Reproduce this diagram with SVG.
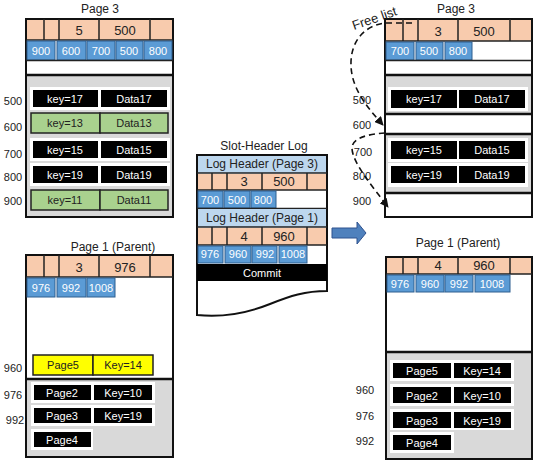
<svg xmlns="http://www.w3.org/2000/svg" width="534" height="462" viewBox="0 0 534 462">
<defs>
  <style>
    text { font-family: "Liberation Sans", Arial, sans-serif; }
    .title { font-size: 12px; fill: #222; text-anchor: middle; }
    .lbl { font-size: 11px; fill: #222; text-anchor: middle; }
    .frame { fill: #ffffff; stroke: #111; stroke-width: 2; }
    .hdr { fill: #f8cbad; }
    .sep { stroke: #222; stroke-width: 1.5; }
    .thick { stroke: #111; stroke-width: 2.5; }
    .slot { fill: #5b9bd5; stroke: #2e5f8f; stroke-width: 1; }
    .slotT { font-size: 11px; fill: #fff; text-anchor: middle; }
    .num { font-size: 13px; fill: #222; text-anchor: middle; }
    .gray { fill: #d9d9d9; }
    .strip { fill: #ffffff; }
    .rec { fill: #000; }
    .recT { font-size: 11px; fill: #fff; text-anchor: middle; }
    .green { fill: #a9d18e; stroke: #222; stroke-width: 1.5; }
    .yellow { fill: #ffff00; stroke: #222; stroke-width: 1.5; }
    .darkT { font-size: 11px; fill: #222; text-anchor: middle; }
    .loghdr { fill: #bdd7ee; }
    .dash { fill: none; stroke: #111; stroke-width: 1.6; stroke-dasharray: 6 4; }
  </style>
  <marker id="ah" viewBox="0 0 10 10" refX="9" refY="5" markerWidth="9" markerHeight="9" markerUnits="userSpaceOnUse" orient="auto">
    <path d="M0,0 L10,5 L0,10 Z" fill="#111"/>
  </marker>
</defs>
<rect width="534" height="462" fill="#ffffff"/>

<!-- Page 3 before reorganisation -->
<g id="page3-before">
  <text class="title" x="100" y="13">Page 3</text>
  <rect class="frame" x="26" y="19" width="147" height="198"/>
  <rect class="hdr" x="27" y="20" width="145" height="20"/>
  <g class="sep">
    <line x1="44" y1="19" x2="44" y2="40"/><line x1="59" y1="19" x2="59" y2="40"/>
    <line x1="99" y1="19" x2="99" y2="40"/><line x1="150" y1="19" x2="150" y2="40"/>
    <line x1="26" y1="40" x2="173" y2="40"/>
  </g>
  <text class="num" x="79" y="35">5</text>
  <text class="num" x="125" y="35">500</text>
  <rect class="slot" x="27" y="41" width="28" height="19"/>
  <rect class="slot" x="57" y="41" width="29" height="19"/>
  <rect class="slot" x="87" y="41" width="28" height="19"/>
  <rect class="slot" x="116" y="41" width="27" height="19"/>
  <rect class="slot" x="144" y="41" width="28" height="19"/>
  <text class="slotT" x="41" y="55">900</text>
  <text class="slotT" x="71" y="55">600</text>
  <text class="slotT" x="101" y="55">700</text>
  <text class="slotT" x="129" y="55">500</text>
  <text class="slotT" x="158" y="55">800</text>
  <line class="sep" x1="26" y1="60.5" x2="173" y2="60.5"/>
  <rect class="gray" x="27" y="76" width="145" height="140"/>
  <line class="thick" x1="26" y1="75" x2="173" y2="75"/>
  <rect class="strip" x="30" y="87" width="140" height="23"/>
  <rect class="strip" x="30" y="138" width="140" height="23"/>
  <rect class="strip" x="30" y="163" width="140" height="23"/>
  <rect class="rec" x="33" y="90" width="65" height="17"/>
  <rect class="rec" x="101" y="90" width="66" height="17"/>
  <rect class="green" x="31" y="113" width="69" height="20"/>
  <rect class="green" x="100" y="113" width="68" height="20"/>
  <rect class="rec" x="33" y="141" width="65" height="17"/>
  <rect class="rec" x="101" y="141" width="66" height="17"/>
  <rect class="rec" x="33" y="166" width="65" height="17"/>
  <rect class="rec" x="101" y="166" width="66" height="17"/>
  <rect class="green" x="31" y="190" width="69" height="20"/>
  <rect class="green" x="100" y="190" width="68" height="20"/>
  <text class="recT" x="65" y="103">key=17</text>
  <text class="recT" x="134" y="103">Data17</text>
  <text class="darkT" x="65" y="127">key=13</text>
  <text class="darkT" x="134" y="127">Data13</text>
  <text class="recT" x="65" y="154">key=15</text>
  <text class="recT" x="134" y="154">Data15</text>
  <text class="recT" x="65" y="179">key=19</text>
  <text class="recT" x="134" y="179">Data19</text>
  <text class="darkT" x="65" y="204">key=11</text>
  <text class="darkT" x="134" y="204">Data11</text>
  <text class="lbl" x="13" y="105">500</text>
  <text class="lbl" x="13" y="131">600</text>
  <text class="lbl" x="13" y="158">700</text>
  <text class="lbl" x="13" y="181">800</text>
  <text class="lbl" x="13" y="205">900</text>
</g>

<!-- Page 1 (parent) before -->
<g id="page1-before">
  <text class="title" x="113" y="251">Page 1 (Parent)</text>
  <rect class="frame" x="26" y="255" width="147" height="202"/>
  <rect class="hdr" x="27" y="256" width="145" height="21"/>
  <g class="sep">
    <line x1="44" y1="255" x2="44" y2="277"/><line x1="59" y1="255" x2="59" y2="277"/>
    <line x1="99" y1="255" x2="99" y2="277"/><line x1="150" y1="255" x2="150" y2="277"/>
    <line x1="26" y1="277" x2="173" y2="277"/>
  </g>
  <text class="num" x="79" y="272">3</text>
  <text class="num" x="125" y="272">976</text>
  <rect class="slot" x="27" y="278" width="28" height="19"/>
  <rect class="slot" x="57" y="278" width="29" height="19"/>
  <rect class="slot" x="87" y="278" width="28" height="19"/>
  <text class="slotT" x="41" y="292">976</text>
  <text class="slotT" x="71" y="292">992</text>
  <text class="slotT" x="101" y="292">1008</text>
  <rect class="yellow" x="33" y="355" width="60" height="20"/>
  <rect class="yellow" x="93" y="355" width="60" height="20"/>
  <text class="darkT" x="63" y="369">Page5</text>
  <text class="darkT" x="123" y="369">Key=14</text>
  <rect class="gray" x="27" y="380" width="145" height="76"/>
  <line class="thick" x1="26" y1="379" x2="173" y2="379"/>
  <rect class="strip" x="31" y="382" width="124" height="21"/>
  <rect class="strip" x="31" y="405" width="124" height="21"/>
  <rect class="strip" x="31" y="429" width="62" height="21"/>
  <rect class="rec" x="34" y="385" width="57" height="15"/>
  <rect class="rec" x="94" y="385" width="58" height="15"/>
  <rect class="rec" x="34" y="408" width="57" height="15"/>
  <rect class="rec" x="94" y="408" width="58" height="15"/>
  <rect class="rec" x="34" y="432" width="57" height="15"/>
  <text class="recT" x="62" y="397">Page2</text>
  <text class="recT" x="123" y="397">Key=10</text>
  <text class="recT" x="62" y="420">Page3</text>
  <text class="recT" x="123" y="420">Key=19</text>
  <text class="recT" x="62" y="444">Page4</text>
  <text class="lbl" x="13" y="372">960</text>
  <text class="lbl" x="13" y="399">976</text>
  <text class="lbl" x="15" y="424">992</text>
</g>

<!-- Slot-header log -->
<g id="slot-header-log">
  <text class="title" x="264" y="150">Slot-Header Log</text>
  <path d="M197,155 H327 V291 C305,291 290,296 270,304 C250,312 225,318 197,315 Z" fill="#ffffff" stroke="#111" stroke-width="2"/>
  <rect class="loghdr" x="198" y="156" width="128" height="17"/>
  <text class="title" x="262" y="168">Log Header (Page 3)</text>
  <rect class="hdr" x="198" y="174" width="128" height="16"/>
  <g class="sep">
    <line x1="197" y1="173" x2="327" y2="173"/>
    <line x1="212" y1="173" x2="212" y2="190"/><line x1="227" y1="173" x2="227" y2="190"/>
    <line x1="262" y1="173" x2="262" y2="190"/><line x1="307" y1="173" x2="307" y2="190"/>
    <line x1="197" y1="190" x2="327" y2="190"/>
  </g>
  <text class="num" x="244" y="186">3</text>
  <text class="num" x="284" y="186">500</text>
  <rect class="slot" x="198" y="191" width="25" height="17"/>
  <rect class="slot" x="224" y="191" width="26" height="17"/>
  <rect class="slot" x="251" y="191" width="25" height="17"/>
  <text class="slotT" x="210" y="204">700</text>
  <text class="slotT" x="237" y="204">500</text>
  <text class="slotT" x="263" y="204">800</text>
  <line class="sep" x1="197" y1="208.5" x2="327" y2="208.5"/>
  <rect class="loghdr" x="198" y="209" width="128" height="18"/>
  <text class="title" x="262" y="222">Log Header (Page 1)</text>
  <rect class="hdr" x="198" y="228" width="128" height="17"/>
  <g class="sep">
    <line x1="197" y1="227" x2="327" y2="227"/>
    <line x1="212" y1="227" x2="212" y2="245"/><line x1="227" y1="227" x2="227" y2="245"/>
    <line x1="262" y1="227" x2="262" y2="245"/><line x1="307" y1="227" x2="307" y2="245"/>
    <line x1="197" y1="245" x2="327" y2="245"/>
  </g>
  <text class="num" x="244" y="241">4</text>
  <text class="num" x="284" y="241">960</text>
  <rect class="slot" x="198" y="246" width="25" height="17"/>
  <rect class="slot" x="225" y="246" width="26" height="17"/>
  <rect class="slot" x="252" y="246" width="25" height="17"/>
  <rect class="slot" x="279" y="246" width="28" height="17"/>
  <text class="slotT" x="210" y="258">976</text>
  <text class="slotT" x="238" y="258">960</text>
  <text class="slotT" x="265" y="258">992</text>
  <text class="slotT" x="293" y="258">1008</text>
  <rect x="197" y="264" width="130" height="17" fill="#000"/>
  <text class="recT" x="262" y="277">Commit</text>
</g>

<!-- Page 3 after reorganisation -->
<g id="page3-after">
  <text class="title" x="456" y="13">Page 3</text>
  <rect class="frame" x="385" y="19" width="147" height="198"/>
  <rect class="hdr" x="386" y="20" width="145" height="21"/>
  <g class="sep">
    <line x1="403" y1="19" x2="403" y2="41"/><line x1="418" y1="19" x2="418" y2="41"/>
    <line x1="458" y1="19" x2="458" y2="41"/><line x1="510" y1="19" x2="510" y2="41"/>
    <line x1="385" y1="41" x2="532" y2="41"/>
  </g>
  <text class="num" x="438" y="36">3</text>
  <text class="num" x="484" y="36">500</text>
  <rect class="slot" x="386" y="42" width="28" height="18"/>
  <rect class="slot" x="416" y="42" width="27" height="18"/>
  <rect class="slot" x="445" y="42" width="27" height="18"/>
  <text class="slotT" x="400" y="55">700</text>
  <text class="slotT" x="429" y="55">500</text>
  <text class="slotT" x="458" y="55">800</text>
  <line class="sep" x1="385" y1="60.5" x2="532" y2="60.5"/>
  <rect class="gray" x="386" y="76" width="145" height="37"/>
  <line class="thick" x1="385" y1="75" x2="532" y2="75"/>
  <rect class="strip" x="388" y="87" width="140" height="24"/>
  <rect class="rec" x="391" y="90" width="66" height="18"/>
  <rect class="rec" x="459" y="90" width="66" height="18"/>
  <text class="recT" x="424" y="103">key=17</text>
  <text class="recT" x="492" y="103">Data17</text>
  <line class="thick" x1="385" y1="114" x2="532" y2="114"/>
  <rect class="gray" x="386" y="135" width="145" height="57"/>
  <line class="thick" x1="385" y1="134" x2="532" y2="134"/>
  <rect class="strip" x="388" y="138" width="140" height="24"/>
  <rect class="strip" x="388" y="163" width="140" height="24"/>
  <rect class="rec" x="391" y="141" width="66" height="18"/>
  <rect class="rec" x="459" y="141" width="66" height="18"/>
  <rect class="rec" x="391" y="166" width="66" height="17"/>
  <rect class="rec" x="459" y="166" width="66" height="17"/>
  <text class="recT" x="424" y="154">key=15</text>
  <text class="recT" x="492" y="154">Data15</text>
  <text class="recT" x="424" y="179">key=19</text>
  <text class="recT" x="492" y="179">Data19</text>
  <line class="thick" x1="385" y1="193" x2="532" y2="193"/>
  <text class="lbl" x="362" y="104">500</text>
  <text class="lbl" x="362" y="129">600</text>
  <text class="lbl" x="363" y="156">700</text>
  <text class="lbl" x="362" y="180">800</text>
  <text class="lbl" x="362" y="205">900</text>
</g>

<!-- Page 1 (parent) after -->
<g id="page1-after">
  <text class="title" x="458" y="247">Page 1 (Parent)</text>
  <rect class="frame" x="386" y="257" width="146" height="202"/>
  <rect class="hdr" x="387" y="258" width="144" height="16"/>
  <g class="sep">
    <line x1="403" y1="257" x2="403" y2="274"/><line x1="418" y1="257" x2="418" y2="274"/>
    <line x1="458" y1="257" x2="458" y2="274"/><line x1="510" y1="257" x2="510" y2="274"/>
    <line x1="386" y1="274" x2="532" y2="274"/>
  </g>
  <text class="num" x="438" y="270">4</text>
  <text class="num" x="484" y="270">960</text>
  <rect class="slot" x="387" y="275" width="27" height="17"/>
  <rect class="slot" x="416" y="275" width="28" height="17"/>
  <rect class="slot" x="445" y="275" width="28" height="17"/>
  <rect class="slot" x="475" y="275" width="35" height="17"/>
  <text class="slotT" x="400" y="288">976</text>
  <text class="slotT" x="430" y="288">960</text>
  <text class="slotT" x="459" y="288">992</text>
  <text class="slotT" x="492" y="288">1008</text>
  <rect class="gray" x="387" y="353" width="144" height="105"/>
  <line class="thick" x1="386" y1="352" x2="532" y2="352"/>
  <rect class="strip" x="390" y="360" width="124" height="21"/>
  <rect class="strip" x="390" y="384" width="124" height="22"/>
  <rect class="strip" x="390" y="409" width="124" height="21"/>
  <rect class="strip" x="390" y="432" width="64" height="21"/>
  <rect class="rec" x="393" y="363" width="58" height="15"/>
  <rect class="rec" x="454" y="363" width="57" height="15"/>
  <rect class="rec" x="393" y="387" width="58" height="16"/>
  <rect class="rec" x="454" y="387" width="57" height="16"/>
  <rect class="rec" x="393" y="412" width="58" height="16"/>
  <rect class="rec" x="454" y="412" width="57" height="16"/>
  <rect class="rec" x="393" y="435" width="58" height="15"/>
  <text class="recT" x="422" y="375">Page5</text>
  <text class="recT" x="482" y="375">Key=14</text>
  <text class="recT" x="422" y="400">Page2</text>
  <text class="recT" x="482" y="400">Key=10</text>
  <text class="recT" x="422" y="425">Page3</text>
  <text class="recT" x="482" y="425">Key=19</text>
  <text class="recT" x="422" y="447">Page4</text>
  <text class="lbl" x="365" y="394">960</text>
  <text class="lbl" x="365" y="420">976</text>
  <text class="lbl" x="365" y="445">992</text>
</g>

<!-- Connectors -->
<g id="connectors">
  <path d="M332,228 H357 V222 L366,233 L357,244 V238 H332 Z" fill="#4f81bd" stroke="#2f528f" stroke-width="1"/>
  <text font-size="13" fill="#222" transform="translate(354,30) rotate(-19)">Free list</text>
  <path class="dash" d="M412,23 H386 C364,25 350,42 351,66 C352,90 368,108 383,125" marker-end="url(#ah)"/>
  <path class="dash" d="M385,133 C368,134 352,138 352,148 C352,162 372,186 388,207" marker-end="url(#ah)"/>
</g>
</svg>
